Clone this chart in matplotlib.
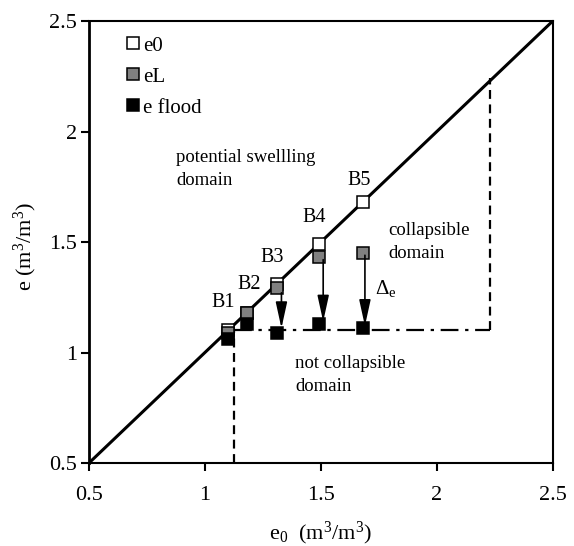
import matplotlib
matplotlib.use("Agg")
from matplotlib import pyplot as plt

plt.rcParams['font.family'] = ['Liberation Serif', 'DejaVu Serif']
plt.rcParams['mathtext.fontset'] = 'custom'
plt.rcParams['mathtext.rm'] = 'Liberation Serif'
plt.rcParams['mathtext.it'] = 'Liberation Serif:italic'

# samples B1..B5
samples = ['B1', 'B2', 'B3', 'B4', 'B5']
e0 = [1.10, 1.18, 1.31, 1.49, 1.68]
eL = [1.09, 1.18, 1.29, 1.43, 1.45]
e_flood = [1.06, 1.13, 1.09, 1.13, 1.11]

# arrows (collapse) for B3..B5
arrow_x = [1.33, 1.51, 1.69]
arrow_from = [1.27, 1.42, 1.44]
arrow_to = [1.11, 1.14, 1.12]

# sample label positions
label_x = [1.08, 1.19, 1.29, 1.47, 1.665]
label_y = [1.225, 1.31, 1.43, 1.61, 1.78]

# domain limits
e_limit = 1.10
e0_low, e0_high = 1.127, 2.23

fig = plt.figure(figsize=(5.74, 5.46), dpi=100)
ax = fig.add_axes([0.155, 0.152, 0.808, 0.8095])

# 1:1 line
ax.plot([0.5, 2.5], [0.5, 2.5], color='black', lw=2.2, zorder=2)

# domain boundaries
ax.plot([e0_low, e0_high], [e_limit, e_limit], color='black', lw=1.6,
        dashes=(8, 3, 1.5, 3), zorder=1)
ax.plot([e0_low, e0_low], [0.5, e_limit], color='black', lw=1.6,
        dashes=(4, 2.5), zorder=1)
ax.plot([e0_high, e0_high], [e_limit, 2.24], color='black', lw=1.6,
        dashes=(4, 2.5), zorder=1)

ms = 8
ax.plot(e0, e0, ls='none', marker='s', ms=ms, mfc='white', mec='black',
        mew=1.1, label='e0', zorder=3)
ax.plot(e0, eL, ls='none', marker='s', ms=ms, mfc='#808080', mec='black',
        mew=1.1, label='eL', zorder=4)
ax.plot(e0, e_flood, ls='none', marker='s', ms=ms, mfc='black', mec='black',
        mew=1.1, label='e flood', zorder=5)

for x, y0, y1 in zip(arrow_x, arrow_from, arrow_to):
    ax.annotate('', xy=(x, y1), xytext=(x, y0),
                arrowprops=dict(arrowstyle='-|>,head_length=1.6,head_width=0.35',
                                color='black', lw=1.2, shrinkA=0, shrinkB=0),
                zorder=6)

for s, x, y in zip(samples, label_x, label_y):
    ax.text(x, y, s, fontsize=14.5, ha='center', va='center')

ax.text(0.875, 1.83, 'potential swellling\ndomain', fontsize=13.5,
        ha='left', va='center', linespacing=1.45)
ax.text(1.79, 1.50, 'collapsible\ndomain', fontsize=13.5,
        ha='left', va='center', linespacing=1.45)
ax.text(1.39, 0.90, 'not collapsible\ndomain', fontsize=13.5,
        ha='left', va='center', linespacing=1.45)
ax.text(1.735, 1.29, r'$\Delta_\mathrm{e}$', fontsize=15, ha='left', va='center')

ax.set_xlim(0.5, 2.5)
ax.set_ylim(0.5, 2.5)
ax.set_xticks([0.5, 1, 1.5, 2, 2.5])
ax.set_yticks([0.5, 1, 1.5, 2, 2.5])
ax.set_xticklabels(['0.5', '1', '1.5', '2', '2.5'])
ax.set_yticklabels(['0.5', '1', '1.5', '2', '2.5'])
ax.tick_params(direction='out', length=5.5, width=1.5, labelsize=16)
ax.tick_params(axis='x', pad=11)
ax.tick_params(axis='y', pad=3)
for sp in ax.spines.values():
    sp.set_linewidth(1.5)
ax.spines['left'].set_linewidth(2)

ax.set_xlabel(r'e$_0$  (m$^3$/m$^3$)', fontsize=16)
ax.xaxis.set_label_coords(0.5, -0.128)
ax.set_ylabel(r'e (m$^3$/m$^3$)', fontsize=16)
ax.yaxis.set_label_coords(-0.108, 0.49)

ax.legend(loc='upper left', bbox_to_anchor=(0.058, 0.985), frameon=False,
          fontsize=15, handletextpad=0.1, labelspacing=0.55, borderaxespad=0,
          handlelength=0.8, markerscale=1.05)

fig.savefig('out.png', dpi=100)
